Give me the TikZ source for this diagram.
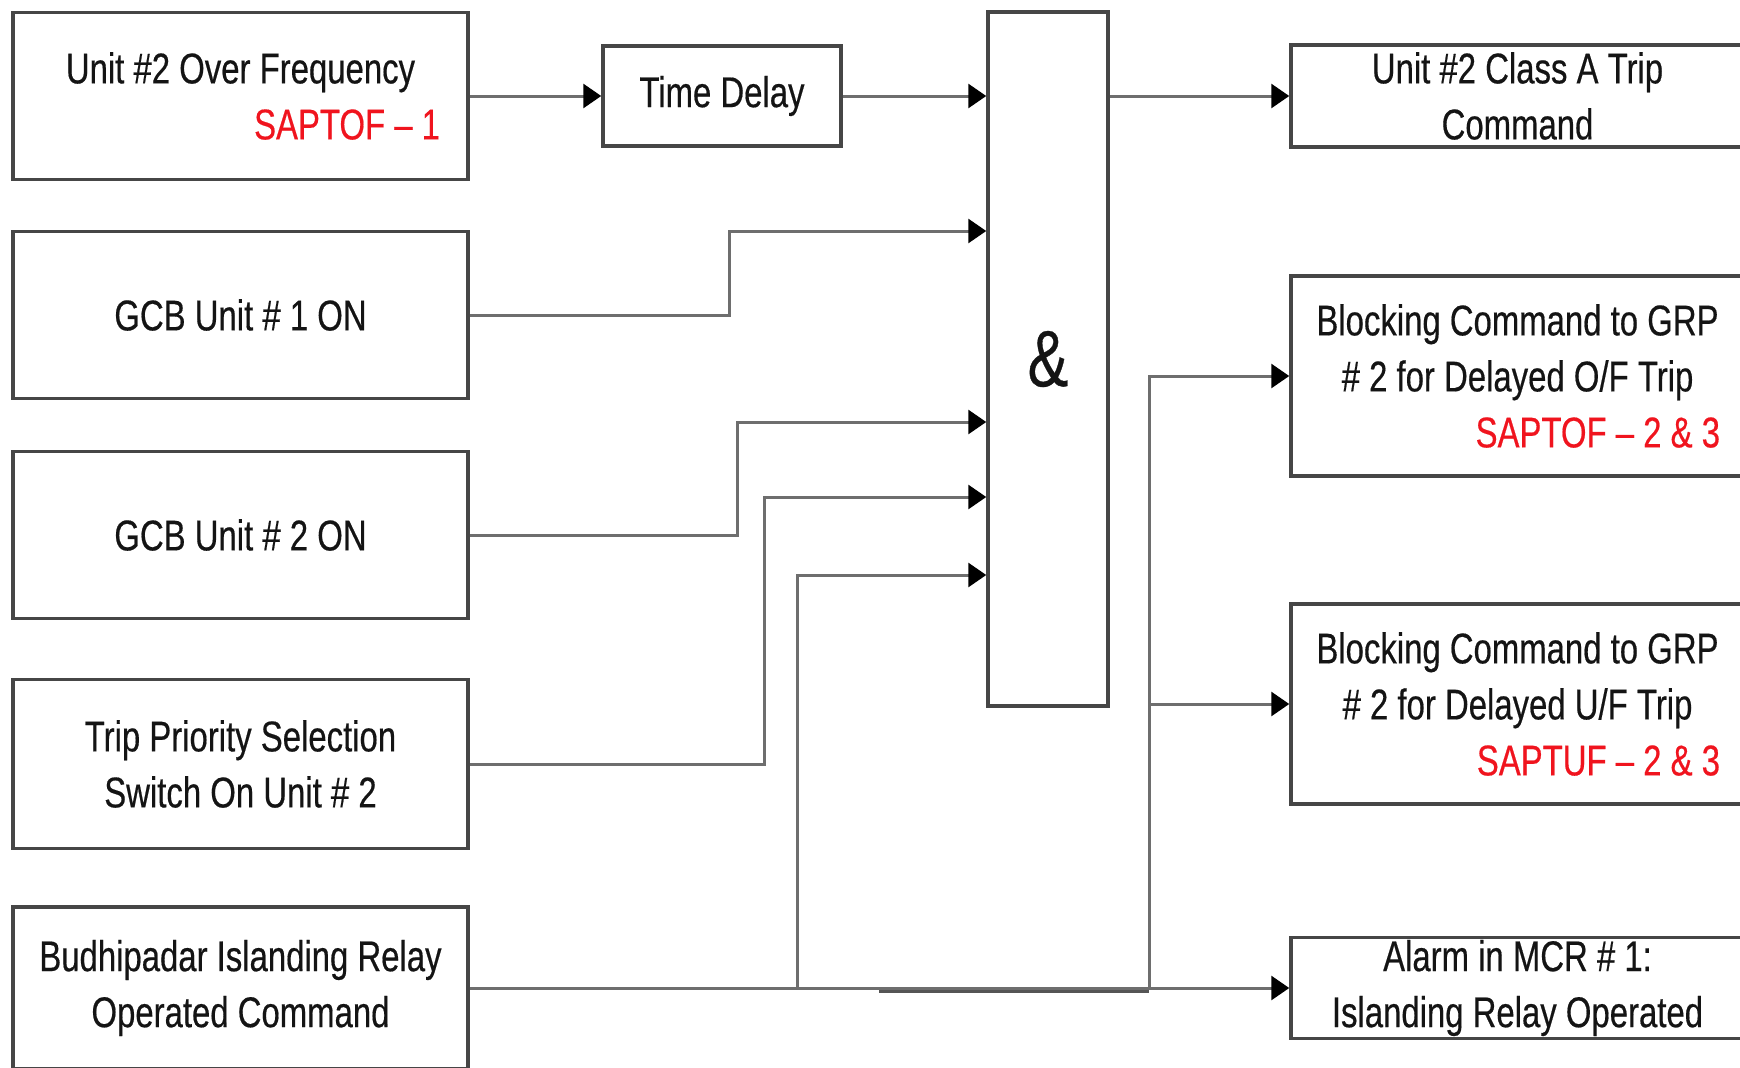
\documentclass[tikz,border=0pt]{standalone}
\usepackage{fontspec}
\setmainfont[FakeStretch=0.765,FakeBold=0.4]{Liberation Sans}
\usetikzlibrary{arrows.meta}
\definecolor{boxline}{RGB}{70,70,70}
\definecolor{connline}{RGB}{110,110,110}
\definecolor{darkconn}{RGB}{85,85,85}
\definecolor{txt}{RGB}{20,20,20}
\definecolor{redtxt}{RGB}{240,20,30}
\begin{document}
\begin{tikzpicture}[x=1pt,y=-1pt,
  box/.style={draw=boxline, line width=3.5pt, fill=white, rectangle, align=flush center,
    text=txt, font=\fontsize{43}{56}\selectfont, inner sep=0pt},
  lbox/.style={box, text width=430pt, minimum width=455pt},
  rbox/.style={box, text width=430pt, minimum width=453pt},
  conn/.style={draw=connline, line width=3pt},
  arr/.style={conn, -{Triangle[length=18pt,width=24pt,color=black]}}]
\useasboundingbox (0,0) rectangle (1740,1068);
\clip (0,0) rectangle (1740,1068);

% left column
\node[lbox, minimum height=167pt] (b1) at (240.5,96)
  {Unit \#2 Over Frequency\\\hspace*{\fill}\textcolor{redtxt}{SAPTOF – 1}\hspace*{15.5pt}};
\node[lbox, minimum height=167pt] (b2) at (240.5,315) {GCB Unit \# 1 ON};
\node[lbox, minimum height=167pt] (b3) at (240.5,535) {GCB Unit \# 2 ON};
\node[lbox, minimum height=169pt] (b4) at (240.5,764) {Trip Priority Selection\\Switch On Unit \# 2};
\node[lbox, minimum height=162pt] (b5) at (240.5,988) {Budhipadar Islanding Relay\\Operated Command};

% middle
\node[box, minimum width=238pt, minimum height=100pt] (td) at (722,96) {Time Delay};
\node[box, minimum width=120pt, minimum height=694pt] (and) at (1048,359) {};
\node[text=txt, font=\fontsize{80}{80}\selectfont, inner sep=0pt] (amp) at (and.center) {\&};

% right column
\node[rbox, minimum height=102pt] (r1) at (1517.5,96) {Unit \#2 Class A Trip\\Command};
\node[rbox, minimum height=200pt] (r2) at (1517.5,376)
  {Blocking Command to GRP\\\# 2 for Delayed O/F Trip\\\hspace*{\fill}\textcolor{redtxt}{SAPTOF – 2 \& 3}\hspace*{12.5pt}};
\node[rbox, minimum height=200pt] (r3) at (1517.5,704)
  {Blocking Command to GRP\\\# 2 for Delayed U/F Trip\\\hspace*{\fill}\textcolor{redtxt}{SAPTUF – 2 \& 3}\hspace*{12.5pt}};
\node[rbox, minimum height=101pt] (r4) at (1517.5,988) {Alarm in MCR \# 1:\\Islanding Relay Operated};

% bend points and input levels
\coordinate (v2) at (729,231);
\coordinate (v3) at (737,422);
\coordinate (v4) at (764,497);
\coordinate (v5) at (797,575);
\coordinate (j5) at (797,988);
\coordinate (jt) at (1149,988);
\coordinate (k1) at (879,991);

% connectors
\draw[arr] (b1.east) -- (td.west);
\draw[arr] (td.east) -- (and.west |- td.east);
\draw[arr] (and.east |- td.east) -- (r1.west);
\draw[arr] (b2.east) -| (v2) -- (and.west |- v2);
\draw[arr] (b3.east) -| (v3) -- (and.west |- v3);
\draw[arr] (b4.east) -| (v4) -- (and.west |- v4);
\draw[arr] (j5) -- (v5) -- (and.west |- v5);
\draw[arr] (b5.east) -- (r4.west);
\draw[draw=darkconn, line width=3pt] (k1) -- (jt |- k1);
\draw[arr] (jt) |- (r2.west);
\draw[arr] (jt |- r3.west) -- (r3.west);
\end{tikzpicture}
\end{document}
